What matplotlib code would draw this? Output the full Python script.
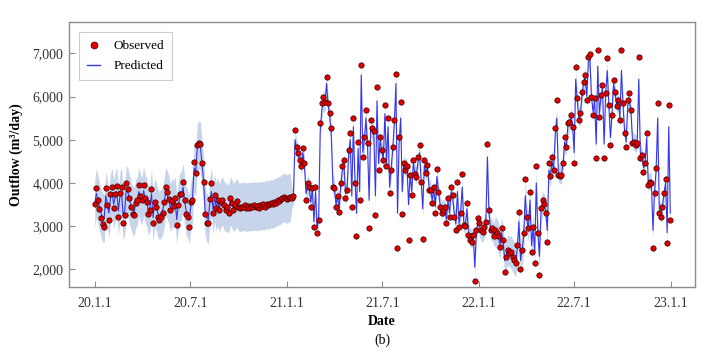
import numpy as np
import pandas as pd
import matplotlib
matplotlib.use("Agg")
import matplotlib.pyplot as plt
import matplotlib.dates as mdates
from matplotlib.ticker import FuncFormatter
from matplotlib.lines import Line2D

plt.rcParams['font.family'] = ['Liberation Serif', 'DejaVu Serif']

# ---------------- data (3-day sampling from 2020-01-01) ----------------
start_date = "2020-01-01"
step = "3D"

obs_2020 = [
    3510, 3890, 3600, 3390, 3180, 3040, 2985, 3875, 3480, 3140, 3740,
    3900, 3410, 3740, 3930, 3220, 3770, 3910, 3080, 3250,
    3990, 3870, 3650, 3450, 3280, 3250, 3530, 3610, 3940, 3700, 3610,
    3940, 3660, 3550, 3270, 3380, 3850, 3060, 3560, 3440, 3210,
    3130, 3210, 3300, 3560, 3910, 3790, 3620, 3370, 3580, 3460,
    3640, 3020, 3480, 3750, 3750, 4030, 3600, 3290, 3210, 2990,
    3560, 3600, 4480, 4220, 4880, 4930, 4900, 4450, 4030, 3280,
    3080, 3060, 3620, 3990, 3300, 3720, 3420, 3600, 3380, 3560, 3610,
    3490, 3380, 3450, 3300, 3645, 3530, 3380, 3490, 3570, 3450,
    3410, 3450, 3440, 3480, 3420, 3470, 3430, 3460, 3440, 3480,
    3450, 3470, 3430, 3490, 3460, 3500, 3450, 3520, 3480, 3510,
    3530, 3500, 3560, 3540, 3600, 3570, 3620, 3650, 3680, 3640,
]
obs_2021 = [
    3620, 3650, 3680, 3640, 3700, 5225, 4840, 4690, 4530, 4380, 4800,
    4450, 3600, 3990, 3910, 3450, 3880, 2990, 3910, 2830,
    3140, 5380, 5840, 5990, 5880, 6460, 5840, 5610, 5260, 3910,
    3880, 3450, 3700, 3330, 3990, 4380, 4530, 3640, 3840, 4760,
    5150, 3450, 5500, 4000, 2760, 4950, 3600, 6730, 4610, 5070, 5690,
    4920, 2950, 5460, 5260, 5200, 3260, 6230, 4300, 5070, 4760,
    4530, 5800, 4380, 5500, 3760, 4300, 4840, 5460, 6510, 2490,
    5070, 5880, 3280, 4450, 4300, 4380, 2680, 4180, 3720, 4530,
    4210, 4140, 4600, 4880, 4030, 2700, 4530, 4220, 4410, 3840,
    3840, 3530, 3910, 3300, 4320, 3800, 3450, 3300, 3370, 3450, 3070,
    3660, 3220, 3910, 3720, 3220, 2910, 4010, 2990, 3300, 4200,
    3030, 3000, 3530, 2790, 2680, 2620, 2790, 1720, 2910, 3180,
]
obs_2022 = [
    3070, 2910, 2870, 2990, 3100, 4900, 3370, 2910, 2950, 2760,
    2900, 2830, 2760, 2520, 2960, 2680, 1940, 2290, 2450, 2380,
    2400, 2290, 2220, 2140, 2560, 3330, 2000, 2450, 2830, 4090,
    3220, 2950, 3800, 2410, 2990, 2150, 4380, 2830, 1870, 3410,
    3600, 3520, 3300, 2630, 4460, 4150, 4610, 4300, 5260, 5920,
    4180, 4170, 4180, 4450, 5070, 4840, 5380, 5420, 5570, 5300,
    4450, 6690, 5960, 5460, 5610, 6110, 6340, 6500, 5920, 6920, 6980,
    6000, 5570, 5960, 4570, 7070, 5530, 6030, 6270, 4570, 6070,
    6880, 5800, 4880, 5570, 6380, 6110, 5770, 5920, 5460, 7070,
    5840, 5150, 4840, 5920, 6070, 5690, 4920, 4950, 4880, 4920,
    6920, 4570, 4650, 4260, 4450, 5150, 3950, 4030, 3990, 2490,
    3760, 4340, 5840, 3300, 3220, 3450, 3760, 4080, 2600, 5810, 3140,
]

pred_2020 = [
    3520, 3760, 3620, 3450, 3300, 3200, 3180, 3700, 3500, 3300, 3650,
    3780, 3500, 3680, 3800, 3350, 3700, 3780, 3250, 3350,
    3850, 3780, 3620, 3480, 3380, 3330, 3520, 3580, 3800, 3650, 3580,
    3820, 3620, 3550, 3350, 3420, 3750, 3200, 3540, 3460, 3300,
    3250, 3280, 3350, 3530, 3800, 3720, 3600, 3420, 3560, 3480,
    3600, 3150, 3480, 3680, 3700, 3900, 3580, 3350, 3280, 3150,
    3500, 3620, 4350, 4250, 4800, 4880, 4850, 4450, 4050, 3350,
    3200, 3150, 3550, 3800, 3380, 3650, 3450, 3560, 3420, 3530, 3580,
    3480, 3420, 3450, 3380, 3580, 3510, 3420, 3480, 3540, 3460,
    3430, 3450, 3440, 3470, 3430, 3460, 3440, 3460, 3450, 3470,
    3455, 3465, 3445, 3480, 3465, 3490, 3460, 3510, 3485, 3505,
    3520, 3510, 3550, 3540, 3590, 3575, 3610, 3640, 3670, 3645,
]
pred_2021 = [
    3620, 3650, 3670, 3650, 3700, 5000, 4800, 4650, 4550, 4420, 4700,
    4400, 3750, 3950, 3900, 3550, 3850, 3100, 3800, 2950,
    3200, 5200, 5700, 5900, 5850, 6300, 5800, 5550, 5100, 4000,
    3850, 3500, 3700, 3400, 3950, 4300, 4450, 3750, 3850, 4650,
    5000, 3700, 5300, 4100, 3300, 4800, 3800, 6500, 4700, 5000, 5500,
    4850, 3600, 5300, 5200, 5100, 3700, 5900, 4450, 5000, 4750,
    4550, 5600, 4450, 5300, 3900, 4350, 4800, 5400, 6300, 3300,
    4900, 5500, 3800, 4450, 4350, 4380, 3500, 4200, 3800, 4450,
    4250, 4180, 4500, 4700, 4050, 3400, 4400, 4250, 4350, 3900,
    3850, 3600, 3850, 3450, 4150, 3800, 3500, 3400, 3400, 3450, 3150,
    3600, 3300, 3800, 3650, 3300, 3050, 3800, 3050, 3300, 3900,
    3100, 3000, 3400, 2850, 2750, 2700, 2800, 2050, 2850, 3100,
]
pred_2022 = [
    3000, 2900, 2880, 2960, 3050, 4600, 3300, 2920, 2930, 2800,
    2880, 2820, 2750, 2580, 2850, 2650, 2200, 2350, 2450, 2400,
    2400, 2320, 2250, 2200, 2500, 3100, 2200, 2450, 2750, 3700,
    3150, 2950, 3600, 2550, 2950, 2400, 4000, 2850, 2300, 3350,
    3550, 3500, 3350, 2900, 4300, 4150, 4500, 4300, 5100, 5500,
    4250, 4200, 4200, 4450, 4950, 4850, 5300, 5400, 5500, 5350,
    4700, 6400, 5900, 5500, 5600, 6050, 6300, 6450, 6000, 6800, 6850,
    6000, 5650, 5900, 4900, 6700, 5600, 6000, 6200, 4900, 6050,
    6600, 5850, 5050, 5600, 6300, 6050, 5800, 5900, 5500, 6600,
    5800, 5200, 4950, 5800, 5950, 5650, 5000, 4950, 4900, 4950,
    6400, 4700, 4650, 4350, 4450, 5050, 4000, 4050, 4000, 2900,
    3800, 4300, 5500, 3400, 3300, 3450, 3750, 4000, 2850, 5300, 3300,
]

# half-width of the prediction interval per month (m3/day)
band_2020 = [500, 520, 520, 500, 520, 500, 480, 500, 500, 520, 540, 560]
band_2021 = [220, 220, 230, 220, 230, 220, 230, 200, 200, 200, 200, 220]
band_2022 = [250, 350, 380, 320, 250, 220, 220, 200, 200, 200, 200, 220]
wide_band_until = "2021-01-10"

tick_dates = ["2020-01-01", "2020-07-01", "2021-01-01", "2021-07-01",
              "2022-01-01", "2022-07-01", "2023-01-01"]
tick_labels = ["20.1.1", "20.7.1", "21.1.1", "21.7.1", "22.1.1", "22.7.1", "23.1.1"]
y_ticks = [2000, 3000, 4000, 5000, 6000, 7000]

# ---------------- build ----------------
obs = np.array(obs_2020 + obs_2021 + obs_2022, dtype=float)
pred = np.array(pred_2020 + pred_2021 + pred_2022, dtype=float)
n = min(len(obs), len(pred))
obs, pred = obs[:n], pred[:n]
dates = pd.date_range(start_date, periods=n, freq=step)

band_months = band_2020 + band_2021 + band_2022
midx = (dates.year - 2020) * 12 + (dates.month - 1)
half = np.array([band_months[min(i, len(band_months) - 1)] for i in midx], dtype=float)
half[dates < pd.Timestamp(wide_band_until)] = band_2020[-1]
lower, upper = pred - half, pred + half

fig = plt.figure(figsize=(7.14, 3.53), dpi=100)
ax = fig.add_axes([0.0966, 0.187, 0.8768, 0.7507])

ax.fill_between(dates, lower, upper, color="#c8d4ea", linewidth=0, zorder=1)
ax.plot(dates, pred, color="#3737e8", linewidth=0.8, zorder=2)
ax.scatter(dates, obs, s=15, c="#e00000", edgecolors="#3a0000", linewidths=0.5, zorder=3)

ax.set_xlim(pd.Timestamp("2019-11-13"), pd.Timestamp("2023-02-16"))
ax.set_ylim(1590, 7725)
ax.set_xticks([pd.Timestamp(d) for d in tick_dates])
ax.set_xticklabels(tick_labels)
ax.set_yticks(y_ticks)
ax.yaxis.set_major_formatter(FuncFormatter(lambda v, p: f"{int(v):,}"))

for s in ax.spines.values():
    s.set_color("#8c8c8c")
    s.set_linewidth(1.0)
ax.tick_params(direction="in", length=4, width=0.8, color="#8c8c8c",
               labelsize=10, labelcolor="#333333", pad=4)
ax.tick_params(axis="x", pad=7)

ax.set_ylabel("Outflow (m³/day)", fontsize=10, fontweight="bold", labelpad=7)
fig.text(0.535, 0.088, "Date", ha="center", va="center", fontsize=10, fontweight="bold")
fig.text(0.535, 0.037, "(b)", ha="center", va="center", fontsize=10)

handles = [
    Line2D([], [], marker="o", linestyle="none", markersize=5,
           markerfacecolor="#e00000", markeredgecolor="#3a0000", markeredgewidth=0.5),
    Line2D([], [], color="#3737e8", linewidth=1.0),
]
leg = ax.legend(handles, ["Observed", "Predicted"], loc="upper left",
                bbox_to_anchor=(0.016, 0.962), borderaxespad=0, fancybox=False,
                edgecolor="#c0c0c0", fontsize=9.5, handlelength=1.0,
                handletextpad=1.0, borderpad=0.6, labelspacing=0.6)
leg.get_frame().set_linewidth(0.8)

fig.savefig("out.png", dpi=100)
